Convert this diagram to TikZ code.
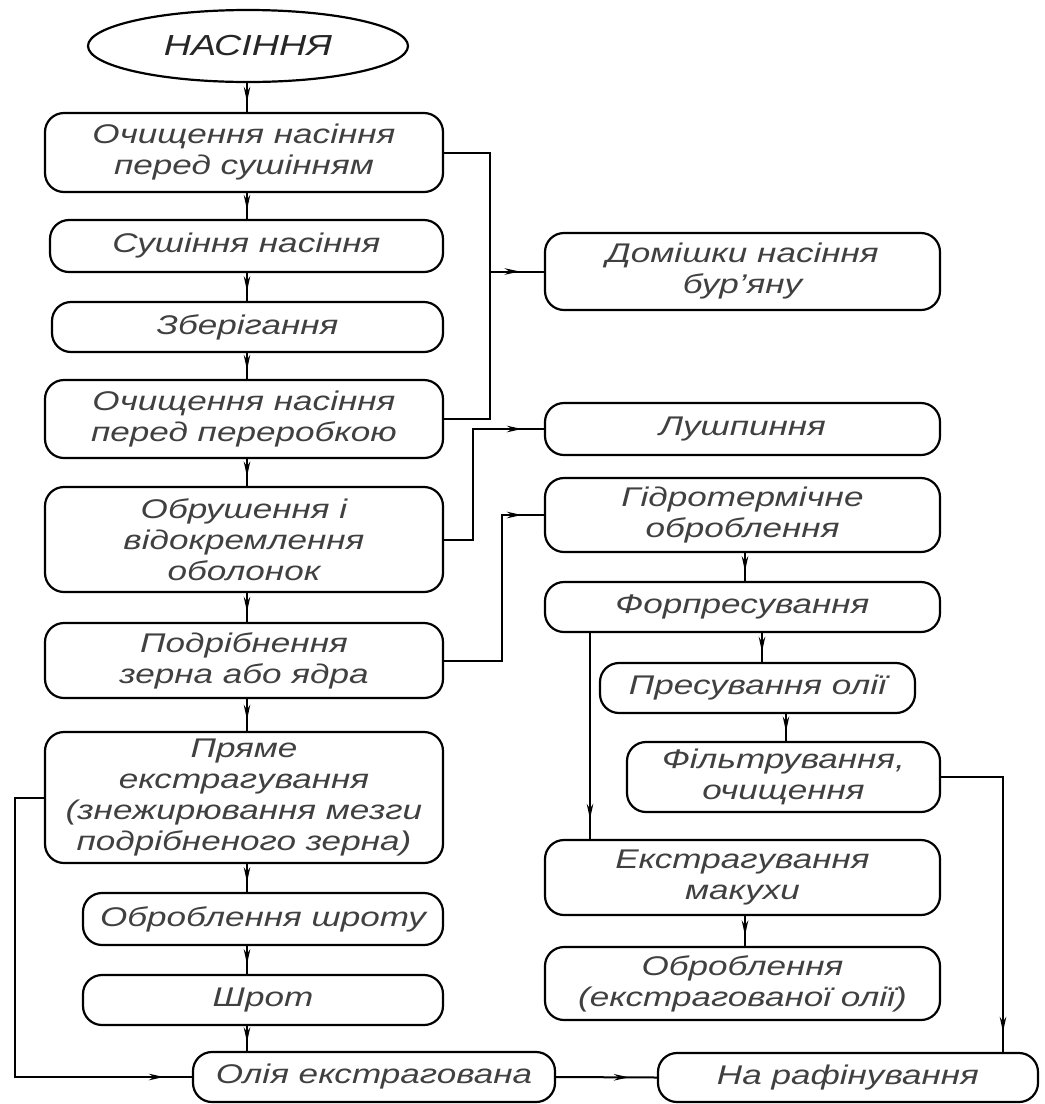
\documentclass[tikz,border=0pt]{standalone}
\usepackage{fontspec}
\newfontfamily\dfont[FakeStretch=1.3]{Liberation Sans}
\usetikzlibrary{shapes.geometric,arrows.meta,decorations.markings}
\begin{document}
\begin{tikzpicture}[x=1pt,y=-1pt,
  box/.style={draw, line width=2.2pt, rounded corners=19pt, align=center, inner sep=0pt,
    font=\dfont\itshape\fontsize{27}{31}\selectfont, text=black!75},
  oval/.style={draw, ellipse, line width=2.2pt, inner sep=0pt, align=center,
    font=\dfont\itshape\fontsize{29}{33}\selectfont, text=black!85},
  conn/.style={draw, line width=2pt},
  arrmid/.style={postaction={decorate}, decoration={markings,
    mark=at position #1 with {\arrow{Stealth[length=15pt,width=6.5pt]}}}},
  arrmid/.default=0.65]
\useasboundingbox (0,0) rectangle (1045,1104);
% left column
\node[oval, minimum width=320, minimum height=72] (seed) at (248,46) {НАСІННЯ};
\node[box, minimum width=398, minimum height=79] (b1) at (244,152.5) {Очищення насіння\\перед сушінням};
\node[box, minimum width=393, minimum height=52] (b2) at (246.5,246) {Сушіння насіння};
\node[box, minimum width=391, minimum height=50] (b3) at (247.5,327) {Зберігання};
\node[box, minimum width=398, minimum height=78] (b4) at (244,419) {Очищення насіння\\перед переробкою};
\node[box, minimum width=398, minimum height=105] (b5) at (244,539.5) {Обрушення і\\відокремлення\\оболонок};
\node[box, minimum width=398, minimum height=75] (b6) at (244,660.5) {Подрібнення\\зерна або ядра};
\node[box, minimum width=398, minimum height=131] (b7) at (244,797.5) {Пряме\\екстрагування\\(знежирювання мезги\\подрібненого зерна)};
\node[box, minimum width=360, minimum height=52] (b8) at (263,919) {Оброблення шроту};
\node[box, minimum width=360, minimum height=50] (b9) at (263,1000) {Шрот};
\node[box, minimum width=362, minimum height=50] (b10) at (374,1077) {Олія екстрагована};
\node[box, minimum width=380, minimum height=49] (b11) at (848,1077.5) {На рафінування};
% right column
\node[box, minimum width=395, minimum height=77] (r1) at (742.5,271.5) {Домішки насіння\\бур’яну};
\node[box, minimum width=395, minimum height=52] (r2) at (742.5,429) {Лушпиння};
\node[box, minimum width=395, minimum height=74] (r3) at (742.5,515) {Гідротермічне\\оброблення};
\node[box, minimum width=395, minimum height=50] (r4) at (742.5,607) {Форпресування};
\node[box, minimum width=315, minimum height=50] (r5) at (757.5,688) {Пресування олії};
\node[box, minimum width=313, minimum height=70] (r6) at (783.5,777) {Фільтрування,\\очищення};
\node[box, minimum width=395, minimum height=75] (r7) at (742.5,877.5) {Екстрагування\\макухи};
\node[box, minimum width=395, minimum height=73] (r8) at (742.5,983.5) {Оброблення\\(екстрагованої олії)};
% axes
\coordinate (ax) at (247,0);
\coordinate (j1) at (490,0);
\coordinate (j2) at (473,0);
\coordinate (j3) at (502,0);
\coordinate (j4) at (15,0);
\coordinate (rx1) at (745,0);
\coordinate (rx2) at (762,0);
\coordinate (rx3) at (786,0);
\coordinate (rx4) at (590,0);
\coordinate (rx5) at (1003,0);
% left vertical flow
\draw[conn, arrmid] (ax |- seed.south) -- (ax |- b1.north);
\draw[conn, arrmid] (ax |- b1.south) -- (ax |- b2.north);
\draw[conn, arrmid] (ax |- b2.south) -- (ax |- b3.north);
\draw[conn, arrmid] (ax |- b3.south) -- (ax |- b4.north);
\draw[conn, arrmid] (ax |- b4.south) -- (ax |- b5.north);
\draw[conn, arrmid] (ax |- b5.south) -- (ax |- b6.north);
\draw[conn, arrmid] (ax |- b6.south) -- (ax |- b7.north);
\draw[conn, arrmid] (ax |- b7.south) -- (ax |- b8.north);
\draw[conn, arrmid] (ax |- b8.south) -- (ax |- b9.north);
\draw[conn, arrmid] (ax |- b9.south) -- (ax |- b10.north);
% impurities
\draw[conn] (b1.east) -- (b1.east -| j1) -- (b4.east -| j1) -- (b4.east);
\draw[conn, arrmid=0.55] (j1 |- r1.west) -- (r1.west);
% husk
\draw[conn, arrmid=-22pt] (b5.east) -- (b5.east -| j2) -- (j2 |- r2.west) -- (r2.west);
% hydrothermal
\draw[conn, arrmid=-22pt] (b6.east) -- (b6.east -| j3) -- (j3 |- r3.west) -- (r3.west);
% right flow
\draw[conn, arrmid] (rx1 |- r3.south) -- (rx1 |- r4.north);
\draw[conn, arrmid] (rx2 |- r4.south) -- (rx2 |- r5.north);
\draw[conn, arrmid] (rx3 |- r5.south) -- (rx3 |- r6.north);
\draw[conn, arrmid=-20pt] (rx4 |- r4.south) -- (rx4 |- r7.north);
\draw[conn, arrmid] (rx1 |- r7.south) -- (rx1 |- r8.north);
\draw[conn, arrmid=-20pt] (r6.east) -- (r6.east -| rx5) -- (rx5 |- b11.north);
% oil
\draw[conn, arrmid=-28pt] (b7.west) -- (b7.west -| j4) -- (j4 |- b10.west) -- (b10.west);
\draw[conn, arrmid=-28pt] (b10.east) -- (b11.west);
\end{tikzpicture}
\end{document}
